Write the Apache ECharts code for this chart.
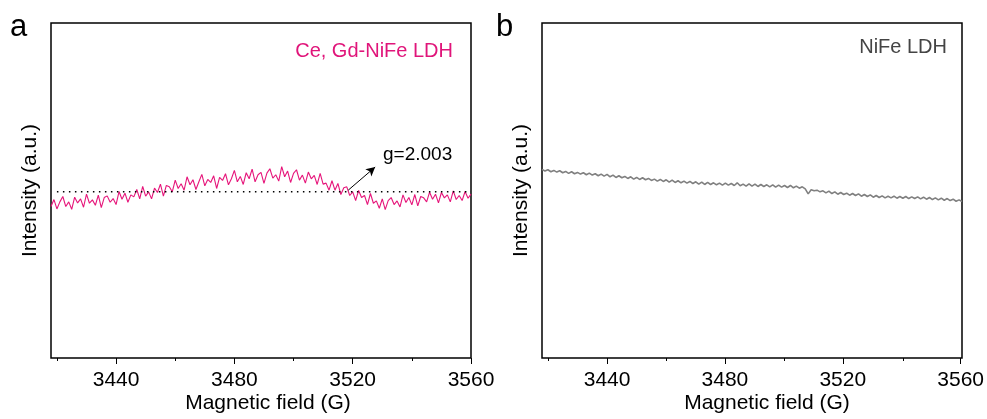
<!DOCTYPE html>
<html><head><meta charset="utf-8">
<script src="https://cdn.jsdelivr.net/npm/echarts@6/dist/echarts.min.js"></script>
<style>html,body{margin:0;padding:0;background:#fff}#c{width:987px;height:419px}</style>
</head><body><div id="c"></div>
<script>
// ---- data ----
const fieldStart = 3418;
const fieldEnd = 3560;
const fieldStep = 1;
const majorTicks = [3440, 3480, 3520, 3560];
const minorTicks = [3420, 3460, 3500, 3540];
const seriesNameA = 'Ce, Gd-NiFe LDH';
const seriesNameB = 'NiFe LDH';
const intensityA = [
45.2,47.3,44.5,46.6,48.2,45.2,46.6,44.4,48.0,46.3,47.5,45.0,48.9,46.2,47.2,45.6,
48.6,44.9,47.9,48.4,46.5,47.6,45.8,49.7,47.4,49.2,46.5,48.7,48.1,50.3,47.5,51.2,
48.3,49.6,47.5,50.7,49.4,51.9,48.3,51.5,51.1,49.6,53.1,50.6,52.0,50.1,54.1,51.7,
53.2,50.3,52.6,54.8,51.4,53.3,52.4,54.4,50.6,53.9,53.0,55.0,51.7,53.5,56.0,52.6,
54.2,51.8,55.3,53.5,56.4,52.6,54.7,55.4,52.1,55.2,56.5,53.7,54.7,52.8,57.1,54.1,
55.8,52.4,55.1,56.2,53.1,54.6,52.2,55.5,53.5,54.5,51.8,55.1,51.9,52.2,50.1,52.9,
50.1,52.1,48.8,50.8,51.1,48.5,49.6,47.0,50.0,47.9,48.5,45.8,49.1,46.2,46.9,44.7,
47.5,44.3,47.0,47.9,45.8,46.9,45.1,48.7,46.4,47.9,45.7,48.8,45.4,48.2,47.8,46.6,
49.5,47.4,48.9,46.3,49.4,47.8,48.7,46.6,49.9,47.3,48.5,47.0,49.7,47.7,48.9
];
const intensityB = [
56.3,55.8,56.2,55.6,56.0,55.5,55.9,55.3,55.7,55.1,55.6,55.0,55.4,54.9,55.3,54.7,
55.2,54.6,55.0,54.4,54.9,54.3,54.8,54.1,54.6,53.9,54.4,53.8,54.2,53.6,54.1,53.4,
53.9,53.3,53.8,53.2,53.6,53.0,53.4,52.8,53.3,52.7,53.2,52.5,53.1,52.4,52.9,52.3,
52.8,52.2,52.7,52.1,52.6,51.9,52.5,51.8,52.4,51.8,52.3,51.7,52.2,51.6,52.2,51.6,
52.1,51.5,52.3,51.4,51.9,51.3,52.0,51.3,51.9,51.2,51.8,51.2,51.7,51.1,51.7,51.0,
51.6,51.0,51.5,50.9,51.5,50.8,51.3,50.7,51.1,50.5,49.0,50.2,49.9,50.1,49.6,49.9,
49.3,49.8,49.1,49.6,48.9,49.4,48.8,49.2,48.6,49.1,48.5,49.0,48.3,48.8,48.2,48.7,
48.0,48.5,47.9,48.4,47.8,48.3,47.8,48.3,47.7,48.2,47.7,48.2,47.6,48.1,47.6,48.1,
47.5,48.0,47.4,47.9,47.3,47.8,47.2,47.7,47.1,47.6,47.0,47.4,46.8,47.2,46.7
];
const baselineA = 49.6;             // dotted reference level
const baselineRange = [3420, 3560];
const arrowA = [[3518.5, 50.1], [3527.6, 57.0]];
const annotationA = 'g=2.003';
const yMin = 0, yMax = 100;

// ---- build ----
const fields = [];
for (let f = fieldStart; f <= fieldEnd; f += fieldStep) fields.push(f);
const pairs = (vals) => vals.map((v, i) => [fields[i], v]);

const FONT = 'Liberation Sans, Arial, sans-serif';
const TOP = 23, HEIGHT = 335, WIDTH = 420;
const panels = [
  {left: 51, yNameGap: 10, xNameShift: 14},
  {left: 542, yNameGap: 10, xNameShift: 30}
];
const span = fieldEnd - fieldStart;
const xpos = (left, v) => left + (v - fieldStart) / span * WIDTH;

const grids = [], xAxes = [], yAxes = [];
panels.forEach((p, k) => {
  grids.push({left: p.left, top: TOP, width: WIDTH, height: HEIGHT, show: true,
    borderColor: '#000', borderWidth: 1.5, backgroundColor: 'transparent'});
  xAxes.push({gridIndex: grids.length - 1, type: 'value', min: fieldStart, max: fieldEnd,
    axisLine: {show: false}, axisTick: {show: false}, axisLabel: {show: false}, splitLine: {show: false},
    name: 'Magnetic field (G)', nameLocation: 'middle', nameGap: 35,
    nameTextStyle: {fontSize: 21, color: '#000', fontFamily: FONT, padding: [0, 0, 0, p.xNameShift]}});
  yAxes.push({gridIndex: grids.length - 1, type: 'value', min: yMin, max: yMax,
    axisLine: {show: false}, axisTick: {show: false}, axisLabel: {show: false}, splitLine: {show: false},
    name: 'Intensity (a.u.)', nameLocation: 'middle', nameGap: p.yNameGap,
    nameTextStyle: {fontSize: 21, color: '#000', fontFamily: FONT}});
  const l1 = xpos(p.left, majorTicks[0]);
  grids.push({left: l1, top: TOP, width: xpos(p.left, majorTicks[majorTicks.length - 1]) - l1, height: HEIGHT});
  xAxes.push({gridIndex: grids.length - 1, type: 'value', min: majorTicks[0], max: majorTicks[majorTicks.length - 1],
    interval: majorTicks[1] - majorTicks[0],
    axisLine: {show: false}, splitLine: {show: false},
    axisTick: {show: true, length: 6, lineStyle: {color: '#000', width: 1}},
    axisLabel: {show: true, fontSize: 21, color: '#000', fontFamily: FONT, margin: 12,
      formatter: (v) => String(v)}});
  yAxes.push({gridIndex: grids.length - 1, type: 'value', show: false, min: yMin, max: yMax});
  const l2 = xpos(p.left, minorTicks[0]);
  grids.push({left: l2, top: TOP, width: xpos(p.left, minorTicks[minorTicks.length - 1]) - l2, height: HEIGHT});
  xAxes.push({gridIndex: grids.length - 1, type: 'value', min: minorTicks[0], max: minorTicks[minorTicks.length - 1],
    interval: minorTicks[1] - minorTicks[0],
    axisLine: {show: false}, splitLine: {show: false}, axisLabel: {show: false},
    axisTick: {show: true, length: 3, lineStyle: {color: '#000', width: 1}}});
  yAxes.push({gridIndex: grids.length - 1, type: 'value', show: false, min: yMin, max: yMax});
});

const chart = echarts.init(document.getElementById('c'), null, {renderer: 'canvas'});
chart.setOption({
  animation: false,
  backgroundColor: '#fff',
  textStyle: {fontFamily: FONT},
  title: [
    {text: 'a', left: 10, top: 12, padding: 0, textStyle: {fontSize: 31, fontWeight: 'normal', color: '#000', fontFamily: FONT}},
    {text: 'b', left: 496, top: 12, padding: 0, textStyle: {fontSize: 31, fontWeight: 'normal', color: '#000', fontFamily: FONT}},
    {text: seriesNameA, right: 987 - 453, top: 41, padding: 0, textStyle: {fontSize: 20, fontWeight: 'normal', color: '#E0157A', fontFamily: FONT}},
    {text: seriesNameB, right: 987 - 947, top: 37, padding: 0, textStyle: {fontSize: 20, fontWeight: 'normal', color: '#444', fontFamily: FONT}},
    {text: annotationA, left: 383, top: 145, padding: 0, textStyle: {fontSize: 19, fontWeight: 'normal', color: '#000', fontFamily: FONT}}
  ],
  grid: grids,
  xAxis: xAxes,
  yAxis: yAxes,
  series: [
    {type: 'line', name: seriesNameA, xAxisIndex: 0, yAxisIndex: 0, data: pairs(intensityA),
      showSymbol: false, lineStyle: {color: '#E6157A', width: 1.1}, z: 2,
      markLine: {silent: true, symbol: ['none', 'arrow'], symbolSize: [7, 9],
        lineStyle: {color: '#000', width: 1, type: 'solid'}, label: {show: false},
        data: [[{coord: arrowA[0]}, {coord: arrowA[1]}]]}},
    {type: 'line', xAxisIndex: 0, yAxisIndex: 0,
      data: [[baselineRange[0], baselineA], [baselineRange[1], baselineA]],
      showSymbol: false, lineStyle: {color: '#000', width: 1.5, type: [1.5, 4.5]}, z: 3},
    {type: 'line', name: seriesNameB, xAxisIndex: 3, yAxisIndex: 3, data: pairs(intensityB),
      showSymbol: false, lineStyle: {color: '#808080', width: 1.6}, z: 2}
  ]
});
</script>
</body></html>
